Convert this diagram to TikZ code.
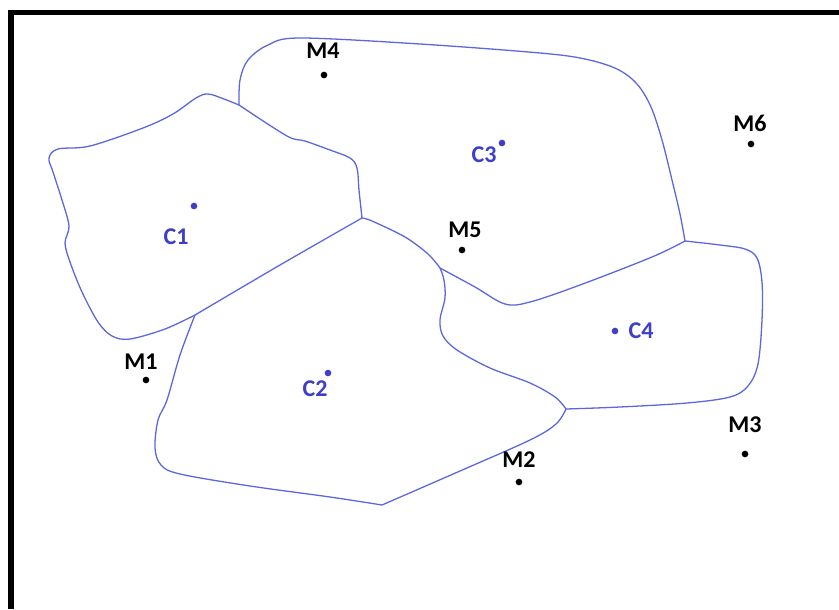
\documentclass[tikz,border=0pt]{standalone}
\usepackage{fontspec}
\setmainfont{Carlito}
\usepackage{tikz}
\usetikzlibrary{positioning,calc}
\definecolor{cellblue}{RGB}{92,102,222}
\definecolor{centreblue}{RGB}{62,62,200}

\begin{document}
\begin{tikzpicture}[
    x=0.03cm, y=-0.03cm,
    cellline/.style={draw=cellblue, line width=1.1pt},
    mdot/.style={circle, fill=black, inner sep=0pt, minimum size=0.2cm},
    cdot/.style={circle, fill=centreblue, inner sep=0pt, minimum size=0.2cm},
    mlabel/.style={font=\bfseries\fontsize{20.5}{24}\selectfont, text=black,
      inner sep=0pt},
    clabel/.style={font=\bfseries\fontsize{20.5}{24}\selectfont, text=centreblue,
      inner sep=0pt},
    frameline/.style={draw=black, line width=4.7pt}
  ]
  \useasboundingbox (0,0) rectangle (839,609);

  % ============ Frame (left and top only) ============
  \draw[frameline] (11,609) -- (11,12.5) -- (839,12.5);

  % ============ Junctions of the cells ============
  \coordinate (j1) at (362,218);
  \coordinate (j2) at (440,268);
  \coordinate (j3) at (685,241);
  \coordinate (j4) at (566,409);
  \coordinate (j5) at (239,105);
  \coordinate (j6) at (195,315);
  \coordinate (kink) at (382,505);

  % ============ Cell boundaries ============
  % C1 outer edge
  \draw[cellline] plot[smooth, tension=0.55] coordinates {(j6) (165,329) (130,339)
    (112,336) (98,322) (82,292) (70,262) (65,243) (69,226) (62,200) (53,172)
    (49,158) (58,149) (90,146) (143,128) (173,114) (196,98) (208,94) (224,99) (j5)};
  % C3 outer edge
  \draw[cellline] plot[smooth, tension=0.55] coordinates {(j5) (240,80) (248,60)
    (268,45) (300,38) (420,44) (540,53) (585,59) (617,69) (637,84) (651,107)
    (662,140) (672,180) (680,214) (j3)};
  % C1 / C3
  \draw[cellline] plot[smooth, tension=0.55] coordinates {(j5) (287,136) (305,141)
    (330,150) (350,158) (357,168) (359,190) (j1)};
  % C1 / C2
  \draw[cellline] plot[smooth, tension=0.5] coordinates {(j1) (280,265) (j6)};
  % C2 / C3
  \draw[cellline] plot[smooth, tension=0.55] coordinates {(j1) (372,221) (405,237)
    (428,254) (j2)};
  % C3 / C4
  \draw[cellline] plot[smooth, tension=0.55] coordinates {(j2) (475,287) (505,304)
    (530,302) (580,285) (652,257) (j3)};
  % C4 outer edge
  \draw[cellline] plot[smooth, tension=0.55] coordinates {(j3) (720,245) (745,249)
    (757,258) (762,282) (762,320) (758,364) (748,386) (730,397) (687,403)
    (620,407) (j4)};
  % C2 / C4
  \draw[cellline] plot[smooth, tension=0.55] coordinates {(j2) (444,280) (445,298)
    (440,320) (443,336) (457,350) (490,368) (530,383) (555,397) (j4)};
  % C2 outer edge
  \draw[cellline] plot[smooth, tension=0.55] coordinates {(j4) (556,424) (530,440)
    (460,471) (kink)};
  \draw[cellline] plot[smooth, tension=0.55] coordinates {(kink) (330,497)
    (250,486) (180,474) (161,465) (155,448) (158,420) (167,400) (180,355) (j6)};

  % ============ Cell centres ============
  \node[cdot] (c1) at (194,206) {};
  \node[cdot] (c2) at (328,373) {};
  \node[cdot] (c3) at (502,143) {};
  \node[cdot] (c4) at (615,331) {};
  \node[clabel] (c1lab) at (176,237) {C1};
  \node[clabel] (c2lab) at (315,389) {C2};
  \node[clabel] (c3lab) at (484,155) {C3};
  \node[clabel] (c4lab) at (641,331) {C4};

  % ============ Points M1..M6 ============
  \node[mdot] (m1) at (146,380) {};
  \node[mdot] (m2) at (519,482) {};
  \node[mdot] (m3) at (745,454) {};
  \node[mdot] (m4) at (324,75) {};
  \node[mdot] (m5) at (462,250) {};
  \node[mdot] (m6) at (751,144) {};
  \node[mlabel] (m1lab) at (141,362) {M1};
  \node[mlabel] (m2lab) at (519,460) {M2};
  \node[mlabel] (m3lab) at (745,425) {M3};
  \node[mlabel] (m4lab) at (323,51) {M4};
  \node[mlabel] (m5lab) at (465,230) {M5};
  \node[mlabel] (m6lab) at (750,123) {M6};

\end{tikzpicture}
\end{document}
